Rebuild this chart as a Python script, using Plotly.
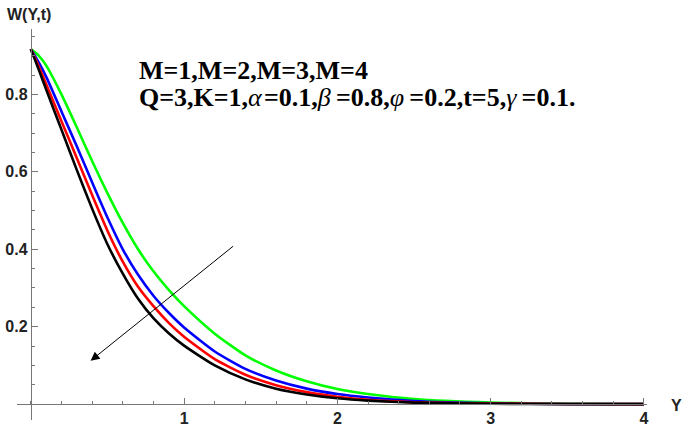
import plotly.graph_objects as go

# velocity profiles W(Y,t) for M = 1..4
Y = [0, 0.05, 0.1, 0.2, 0.3, 0.4, 0.5, 0.6, 0.7, 0.8, 0.9, 1.0, 1.2, 1.4, 1.6, 1.8, 2.0, 2.2, 2.5, 3.0, 3.5, 4.0]
W_M1 = [0.917, 0.901, 0.875, 0.800, 0.715, 0.628, 0.545, 0.468, 0.400, 0.343, 0.295, 0.253, 0.182, 0.126, 0.087, 0.059, 0.039, 0.026, 0.013, 0.004, 0.001, 0.0]
W_M2 = [0.917, 0.884, 0.846, 0.756, 0.666, 0.573, 0.482, 0.400, 0.334, 0.280, 0.236, 0.198, 0.136, 0.091, 0.061, 0.040, 0.026, 0.017, 0.008, 0.002, 0.0005, 0.0]
W_M3 = [0.917, 0.874, 0.827, 0.731, 0.636, 0.540, 0.448, 0.368, 0.303, 0.253, 0.210, 0.174, 0.116, 0.076, 0.049, 0.031, 0.019, 0.011, 0.005, 0.0015, 0.0003, 0.0]
W_M4 = [0.917, 0.866, 0.813, 0.709, 0.605, 0.505, 0.413, 0.337, 0.272, 0.222, 0.183, 0.151, 0.100, 0.064, 0.040, 0.025, 0.015, 0.009, 0.004, 0.001, 0.0, 0.0]

series = [("M=1", W_M1, "#00ff00"), ("M=2", W_M2, "#0000ff"),
          ("M=3", W_M3, "#ff0000"), ("M=4", W_M4, "#000000")]

xr = [-0.09, 4.02]
yr = [-0.041, 0.969]

fig = go.Figure()
for name, w, col in series:
    fig.add_trace(go.Scatter(x=Y, y=w, mode="lines", name=name,
                             line=dict(color=col, width=2.6, shape="spline", smoothing=0.6)))

tickfont = dict(family="Liberation Sans", size=16, color="#222222")
axcol = "#777777"
fig.update_xaxes(range=xr, showgrid=False, zeroline=False, showline=True, linecolor=axcol,
                 linewidth=1, anchor="free", position=(0 - yr[0]) / (yr[1] - yr[0]), automargin=False,
                 tickvals=[1, 2, 3, 4], ticktext=["<b>1</b>", "<b>2</b>", "<b>3</b>", "<b>4</b>"],
                 ticks="inside", ticklen=6, tickcolor=axcol, tickfont=tickfont,
                 minor=dict(dtick=0.2, tick0=0, ticks="inside", ticklen=3, tickcolor=axcol))
fig.update_yaxes(range=yr, showgrid=False, zeroline=False, showline=True, linecolor=axcol,
                 linewidth=1, anchor="free", position=(0 - xr[0]) / (xr[1] - xr[0]), automargin=False,
                 tickvals=[0.2, 0.4, 0.6, 0.8], ticktext=["<b>0.2</b>", "<b>0.4</b>", "<b>0.6</b>", "<b>0.8</b>"],
                 ticks="inside", ticklen=6, tickcolor=axcol, tickfont=tickfont,
                 minor=dict(dtick=0.05, tick0=0, ticks="inside", ticklen=3, tickcolor=axcol))

# arrow showing increasing M
fig.add_annotation(x=0.39, y=0.112, ax=1.33, ay=0.411, xref="x", yref="y", axref="x", ayref="y",
                   text="", showarrow=True, arrowhead=2, arrowsize=1.8, arrowwidth=1, arrowcolor="#000000")

lab = dict(family="Liberation Sans", size=16, color="#222222")
fig.add_annotation(x=-0.019, y=1.036, xref="paper", yref="paper", xanchor="left", yanchor="middle",
                   text="<b>W(Y,t)</b>", showarrow=False, font=lab)
fig.add_annotation(x=1.0476, y=0.038, xref="paper", yref="paper", xanchor="center", yanchor="middle",
                   text="<b>Y</b>", showarrow=False, font=lab)

txt = dict(family="Liberation Serif", size=26, color="#000000")
fig.add_annotation(x=0.190, y=0.893, xref="paper", yref="paper", xanchor="left", yanchor="middle",
                   text="<b>M=1,M=2,M=3,M=4</b>", showarrow=False, font=txt)
fig.add_annotation(x=0.190, y=0.826, xref="paper", yref="paper", xanchor="left", yanchor="middle",
                   text="<b>Q=3,K=1,</b><i>α</i>\u200a<b>=0.1,</b><i>β</i>\u2009<b>=0.8,</b><i>φ</i>\u2009<b>=0.2,t=5,</b><i>γ</i>\u2009<b>=0.1.</b>",
                   showarrow=False, font=txt)

fig.update_layout(width=685, height=428, showlegend=False,
                  margin=dict(l=17, r=38, t=29, b=8),
                  plot_bgcolor="white", paper_bgcolor="white")
# drop the default page margin so the figure sits at the window corner
fig.write_html("out.html", config={"displayModeBar": False},
               post_script="document.body.style.margin='0';")
